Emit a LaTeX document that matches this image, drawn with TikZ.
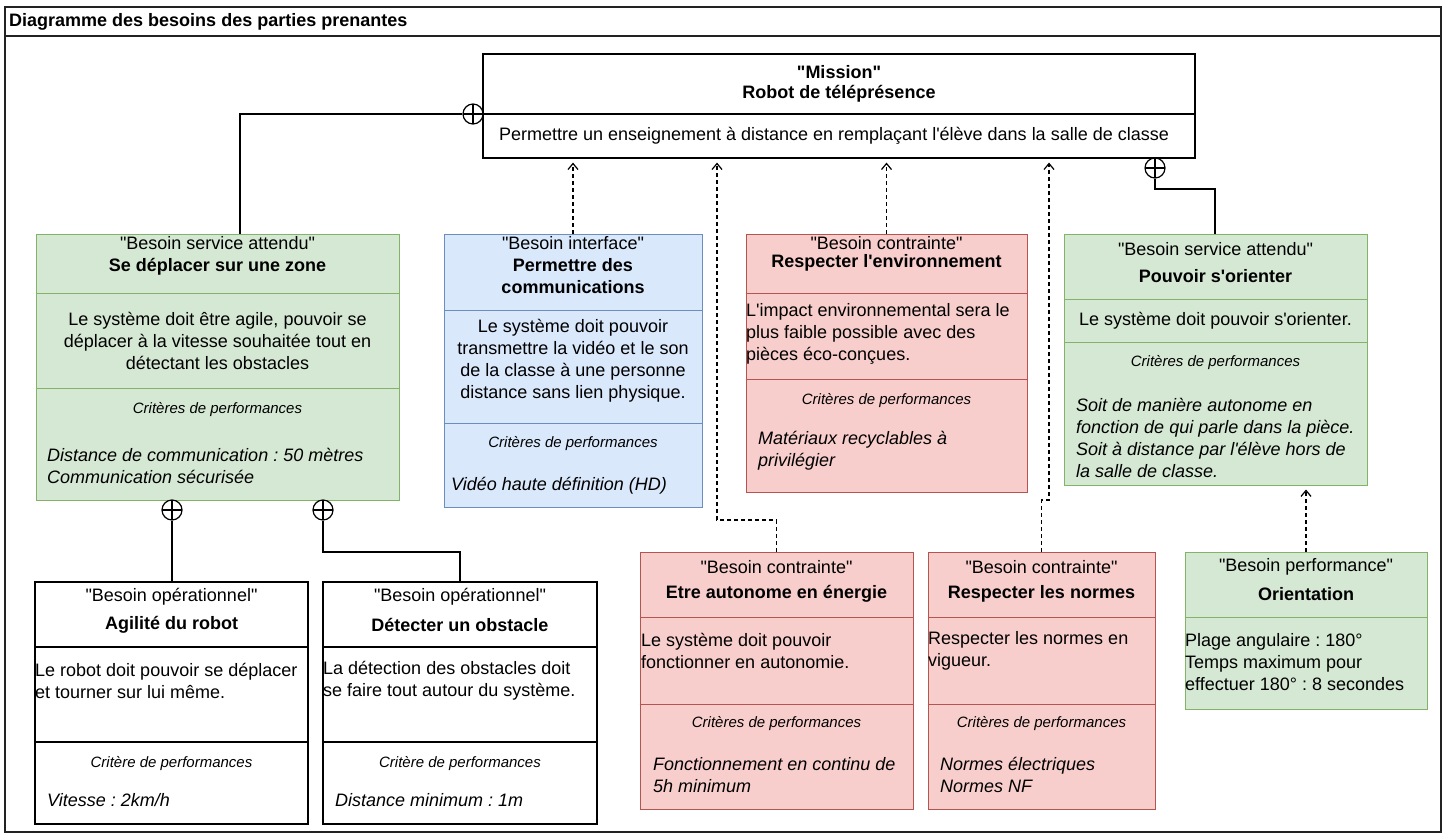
\documentclass[tikz,border=0pt]{standalone}
\usepackage{fontspec}
\setmainfont{Liberation Sans}[Ligatures=TeXOff]
\usetikzlibrary{arrows.meta,fit,calc}
\frenchspacing
\definecolor{greenF}{HTML}{D5E8D4}
\definecolor{greenB}{HTML}{82B366}
\definecolor{blueF}{HTML}{DAE8FC}
\definecolor{blueB}{HTML}{6C8EBF}
\definecolor{redF}{HTML}{F8CECC}
\definecolor{redB}{HTML}{B85450}
\definecolor{frameC}{HTML}{222222}
\newcommand{\hdiv}[3]{\draw[#1] (#2.west |- 0,#3) -- (#2.east |- 0,#3);}
\tikzset{
  base/.style={inner sep=0pt, font=\fontsize{18}{22}\selectfont},
  st/.style={base},
  ti/.style={base, font=\fontsize{18}{22}\selectfont\bfseries, align=center},
  ds/.style={base, align=center},
  dl/.style={base, align=left, anchor=west},
  cr/.style={inner sep=0pt, font=\fontsize{15}{18}\selectfont\itshape},
  ci/.style={base, font=\fontsize{18}{22}\selectfont\itshape, align=left, anchor=west},
  boxbase/.style={inner sep=0pt, line width=1pt},
  gbox/.style={boxbase, draw=greenB, fill=greenF},
  bbox/.style={boxbase, draw=blueB, fill=blueF},
  rbox/.style={boxbase, draw=redB, fill=redF},
  wbox/.style={boxbase, draw=black, fill=white, line width=1.2pt},
  gline/.style={greenB, line width=1pt},
  bline/.style={blueB, line width=1pt},
  rline/.style={redB, line width=1pt},
  wline/.style={black, line width=1.2pt},
  conn/.style={black, line width=1.2pt},
  dep/.style={black, line width=1.2pt, dash pattern=on 4pt off 3pt, shorten >=4pt,
    -{Straight Barb[length=6pt,width=10pt,line width=1.2pt]}},
  oplus/.style={circle, draw=black, line width=1.2pt, minimum size=20pt, inner sep=0pt,
    path picture={\draw[line width=1.2pt] (path picture bounding box.north) -- (path picture bounding box.south)
      (path picture bounding box.west) -- (path picture bounding box.east);}},
}
\begin{document}
\begin{tikzpicture}[x=1pt,y=-1pt]
\useasboundingbox (0,0) rectangle (1448,838);
\fill[white] (0,0) rectangle (1448,838);

% frame
\node[draw=frameC, line width=1.5pt, inner sep=0pt, fit={(5,7) (1441,832)}] (frame) {};
\draw[frameC, line width=1.5pt] (frame.west |- 0,36) -- (frame.east |- 0,36);
\node[anchor=west, inner sep=0pt, font=\fontsize{18}{22}\selectfont\bfseries] (title) at (9,22) {Diagramme des besoins des parties prenantes};

% mission
\node[wbox, fit={(483,54) (1195,158)}] (mission) {};
\hdiv{wline}{mission}{114}
\node[ti] (mst) at (839,72) {"Mission"};
\node[ti] (mti) at (839,94) {Robot de téléprésence};
\node[base] (mds) at (834,136) {Permettre un enseignement à distance en remplaçant l'élève dans la salle de classe};

% serv1
\node[gbox, fit={(36,234) (399,500)}] (serv1) {};
\hdiv{gline}{serv1}{293}
\hdiv{gline}{serv1}{388}
\node[st] (s1a) at (217.5,243) {"Besoin service attendu"};
\node[ti] (s1b) at (217.5,267) {Se déplacer sur une zone};
\node[ds] (s1c) at (217.5,341) {Le système doit être agile, pouvoir se\\déplacer à la vitesse souhaitée tout en\\détectant les obstacles};
\node[cr] (s1d) at (217.5,410) {Critères de performances};
\node[ci] (s1e) at (47,466) {Distance de communication : 50 mètres\\Communication sécurisée};

% interface
\node[bbox, fit={(444,234) (702,507)}] (iface) {};
\hdiv{bline}{iface}{310}
\hdiv{bline}{iface}{423}
\node[st] (i1a) at (573,243) {"Besoin interface"};
\node[ti] (i1b) at (573,276) {Permettre des\\communications};
\node[ds] (i1c) at (573,361) {Le système doit pouvoir\\transmettre la vidéo et le son\\de la classe à une personne\\distance sans lien physique.};
\node[cr] (i1d) at (573,444) {Critères de performances};
\node[ci] (i1e) at (451,486) {Vidéo haute définition (HD)};

% environnement
\node[rbox, fit={(746,234) (1027,492)}] (env) {};
\hdiv{rline}{env}{293}
\hdiv{rline}{env}{379}
\node[st] (e1a) at (886.5,243) {"Besoin contrainte"};
\node[ti] (e1b) at (886.5,263) {Respecter l'environnement};
\node[dl] (e1c) at (746,334) {L'impact environnemental sera le\\plus faible possible avec des\\pièces éco-conçues.};
\node[cr] (e1d) at (886.5,401) {Critères de performances};
\node[ci] (e1e) at (758,451) {Matériaux recyclables à\\privilégier};

% orienter
\node[gbox, fit={(1064,234) (1367,485)}] (orient) {};
\hdiv{gline}{orient}{299}
\hdiv{gline}{orient}{342}
\node[st] (o1a) at (1215.5,249) {"Besoin service attendu"};
\node[ti] (o1b) at (1215.5,276) {Pouvoir s'orienter};
\node[ds] (o1c) at (1215.5,321) {Le système doit pouvoir s'orienter.};
\node[cr] (o1d) at (1215.5,363) {Critères de performances};
\node[ci] (o1e) at (1076,438) {Soit de manière autonome en\\fonction de qui parle dans la pièce.\\Soit à distance par l'élève hors de\\la salle de classe.};

% agilite
\node[wbox, fit={(35,582) (308,824)}] (agil) {};
\hdiv{wline}{agil}{647}
\hdiv{wline}{agil}{742}
\node[st] (a1a) at (171.5,597) {"Besoin opérationnel"};
\node[ti] (a1b) at (171.5,625) {Agilité du robot};
\node[dl] (a1c) at (35,681) {Le robot doit pouvoir se déplacer\\et tourner sur lui même.};
\node[cr] (a1d) at (171.5,764) {Critère de performances};
\node[ci] (a1e) at (47,800) {Vitesse : 2km/h};

% detecter
\node[wbox, fit={(323,582) (597,824)}] (detect) {};
\hdiv{wline}{detect}{647}
\hdiv{wline}{detect}{742}
\node[st] (d1a) at (460,597) {"Besoin opérationnel"};
\node[ti] (d1b) at (460,625) {Détecter un obstacle};
\node[dl] (d1c) at (323,681) {La détection des obstacles doit\\se faire tout autour du système.};
\node[cr] (d1d) at (460,764) {Critère de performances};
\node[ci] (d1e) at (335,800) {Distance minimum : 1m};

% energie
\node[rbox, fit={(640,552) (913,809)}] (energy) {};
\hdiv{rline}{energy}{617}
\hdiv{rline}{energy}{704}
\node[st] (n1a) at (776.5,567) {"Besoin contrainte"};
\node[ti] (n1b) at (776.5,594) {Etre autonome en énergie};
\node[dl] (n1c) at (641,651) {Le système doit pouvoir\\fonctionner en autonomie.};
\node[cr] (n1d) at (776.5,724) {Critères de performances};
\node[ci] (n1e) at (653,775) {Fonctionnement en continu de\\5h minimum};

% normes
\node[rbox, fit={(928,552) (1155,809)}] (normes) {};
\hdiv{rline}{normes}{617}
\hdiv{rline}{normes}{704}
\node[st] (m1a) at (1041.5,567) {"Besoin contrainte"};
\node[ti] (m1b) at (1041.5,594) {Respecter les normes};
\node[dl] (m1c) at (928,651) {Respecter les normes en\\vigueur.};
\node[cr] (m1d) at (1041.5,724) {Critères de performances};
\node[ci] (m1e) at (940,775) {Normes électriques\\Normes NF};

% orientation
\node[gbox, fit={(1185,552) (1427,709)}] (orientation) {};
\hdiv{gline}{orientation}{617}
\node[st] (p1a) at (1306,567) {"Besoin performance"};
\node[ti] (p1b) at (1306,594) {Orientation};
\node[dl] (p1c) at (1185,662) {Plage angulaire : 180°\\Temps maximum pour\\effectuer 180° : 8 secondes};

% containment connectors
\node[oplus] (cm1) at (473,114) {};
\node[oplus] (cm2) at (1155,168) {};
\node[oplus] (cs1) at (172,510) {};
\node[oplus] (cs2) at (323,510) {};
\draw[conn] (cm1.west) -| (240,0 |- serv1.north);
\draw[conn] (cm2.south) |- (1215,189) -- (1215,0 |- orient.north);
\draw[conn] (cs1.south) -- (cs1.south |- agil.north);
\draw[conn] (cs2.south) |- (460,552) -- (detect.north);

% dependency connectors
\draw[dep] (iface.north) -- (iface.north |- mission.south);
\draw[dep] (energy.north) |- (717,520) -- (717,0 |- mission.south);
\draw[dep] (env.north) -- (env.north |- mission.south);
\draw[dep] (normes.north) |- (1049,500) -- (1049,0 |- mission.south);
\draw[dep] (orientation.north) -- (orientation.north |- orient.south);
\end{tikzpicture}
\end{document}
